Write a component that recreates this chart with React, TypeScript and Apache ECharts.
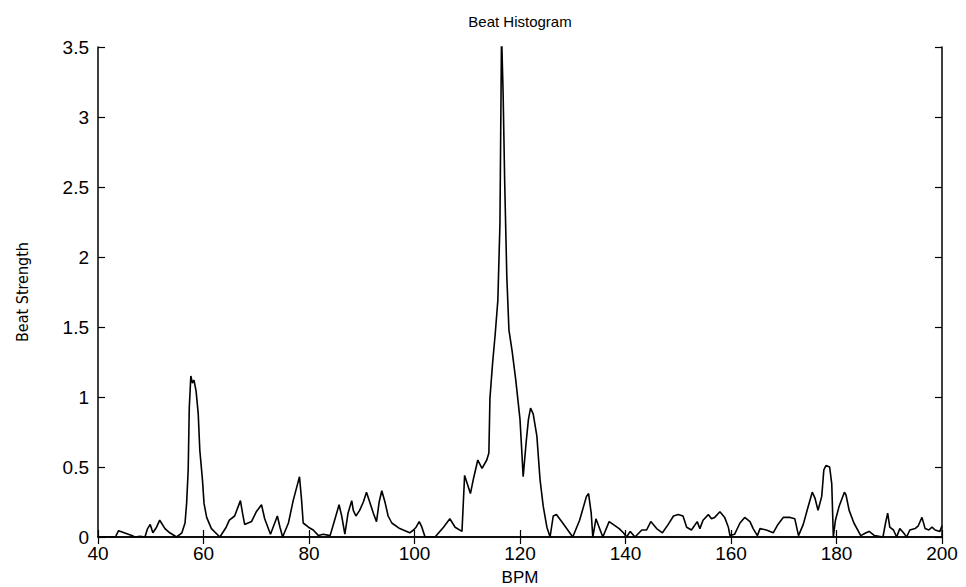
import React, { useEffect, useRef } from "react";
import * as echarts from "echarts";

const bpm: number[] = [
  40.0, 43.3, 43.9, 46.4, 47.0, 48.0, 48.9, 49.4, 49.9, 50.4, 51.1, 51.7, 52.7, 53.6, 54.9,
  55.9, 56.5, 56.8, 57.1, 57.3, 57.6, 57.9, 58.2, 58.6, 59.0, 59.3, 59.8, 60.1, 60.6, 61.5,
  63.1, 64.3, 64.9, 65.9, 66.5, 67.0, 67.4, 67.8, 69.1, 70.0, 71.0, 71.6, 72.7, 74.0, 74.5,
  75.0, 76.1, 77.0, 77.7, 78.2, 78.6, 78.9, 79.9, 80.8, 81.8, 82.7, 84.0, 84.7, 85.7, 86.2,
  86.8, 87.4, 88.1, 88.4, 88.9, 89.6, 90.3, 90.9, 91.6, 92.2, 92.8, 93.3, 93.8, 94.4, 95.0,
  95.7, 97.2, 99.1, 99.8, 100.3, 100.9, 101.4, 102.0, 103.9, 105.5, 106.7, 107.7, 109.0, 109.5, 110.1,
  110.6, 111.2, 112.0, 112.8, 113.7, 114.1, 114.3, 114.8, 115.3, 115.8, 116.2, 116.5, 116.8, 117.1, 117.5,
  117.9, 118.5, 119.2, 120.0, 120.3, 120.6, 121.2, 121.6, 122.0, 122.5, 123.2, 123.8, 124.4, 125.1, 125.7,
  126.3, 126.9, 128.1, 130.0, 131.3, 132.6, 133.0, 133.5, 133.8, 134.4, 135.0, 135.7, 136.9, 138.8, 139.6,
  140.2, 140.9, 141.8, 143.1, 144.0, 144.8, 145.9, 147.0, 148.1, 149.1, 150.0, 150.9, 151.6, 152.5, 153.6,
  154.1, 154.7, 155.7, 156.3, 156.9, 157.9, 158.8, 159.5, 159.8, 160.7, 161.7, 162.6, 163.6, 164.2, 165.0,
  165.5, 166.7, 168.0, 168.9, 169.9, 171.2, 172.1, 172.8, 173.7, 174.5, 175.4, 175.9, 176.5, 177.2, 177.6,
  178.0, 178.7, 179.1, 179.4, 179.8, 180.5, 181.5, 181.8, 182.4, 183.3, 184.6, 185.6, 186.2, 187.2, 188.8,
  189.3, 189.7, 190.1, 190.8, 191.4, 192.0, 192.7, 193.3, 193.9, 194.9, 195.5, 196.2, 196.8, 197.5, 198.1,
  198.7, 199.6, 200.0,
];

const strength: number[] = [
  0, 0, 0.045, 0.01, 0, 0.005, 0, 0.06, 0.09, 0.03, 0.07, 0.12, 0.06, 0.03, 0,
  0.03, 0.1, 0.24, 0.48, 0.92, 1.15, 1.10, 1.12, 1.04, 0.88, 0.62, 0.41, 0.24, 0.14, 0.06,
  0, 0.07, 0.12, 0.15, 0.21, 0.26, 0.17, 0.09, 0.11, 0.18, 0.23, 0.13, 0.02, 0.15, 0.07,
  0, 0.1, 0.26, 0.36, 0.43, 0.26, 0.1, 0.07, 0.05, 0.01, 0.02, 0.01, 0.1, 0.23, 0.15,
  0.02, 0.17, 0.26, 0.19, 0.15, 0.19, 0.25, 0.32, 0.24, 0.17, 0.11, 0.25, 0.33, 0.25, 0.15,
  0.1, 0.06, 0.03, 0.05, 0.07, 0.11, 0.07, 0, 0, 0.07, 0.13, 0.07, 0.04, 0.44, 0.37,
  0.31, 0.42, 0.55, 0.49, 0.55, 0.6, 0.99, 1.24, 1.45, 1.69, 2.24, 3.6, 3.17, 2.53, 1.86,
  1.48, 1.33, 1.12, 0.84, 0.64, 0.43, 0.69, 0.84, 0.92, 0.88, 0.72, 0.41, 0.22, 0.07, 0,
  0.15, 0.16, 0.1, 0, 0.12, 0.29, 0.31, 0.17, 0, 0.13, 0.07, 0, 0.11, 0.06, 0.03,
  0, 0.04, 0, 0.05, 0.05, 0.11, 0.06, 0.03, 0.09, 0.15, 0.16, 0.15, 0.07, 0.05, 0.11,
  0.06, 0.12, 0.16, 0.13, 0.14, 0.18, 0.14, 0.07, 0.01, 0.02, 0.1, 0.14, 0.11, 0.06, 0.01,
  0.06, 0.05, 0.03, 0.09, 0.14, 0.14, 0.13, 0.01, 0.09, 0.2, 0.32, 0.28, 0.19, 0.29, 0.48,
  0.51, 0.50, 0.38, 0, 0.12, 0.22, 0.32, 0.30, 0.19, 0.1, 0.01, 0.03, 0.04, 0.01, 0,
  0.1, 0.17, 0.07, 0.05, 0, 0.06, 0.03, 0, 0.05, 0.06, 0.08, 0.14, 0.06, 0.05, 0.07,
  0.05, 0.04, 0.08,
];

const titleText = "Beat Histogram";
const xName = "BPM";
const yName = "Beat Strength";

const FONT = "'Liberation Sans', Arial, Helvetica, sans-serif";
const NARROW = "'Liberation Sans Narrow', 'DejaVu Sans Condensed', Arial, sans-serif";

export default function App() {
  const ref = useRef<HTMLDivElement>(null);
  useEffect(() => {
    if (!ref.current) return;
    const chart = echarts.init(ref.current, undefined, { renderer: "svg" });
    const data = bpm.map((b, i) => [b, strength[i]]);
    const axisLine = { show: true, lineStyle: { color: "#000", width: 1.5 } };
    const tick = { show: true, inside: true, length: 7, lineStyle: { color: "#000", width: 1.2 } };
    chart.setOption({
      animation: false,
      backgroundColor: "#fff",
      grid: { left: 98, right: 24, top: 47, bottom: 50, containLabel: false },
      xAxis: [
        {
          type: "value", min: 40, max: 200, interval: 20, position: "bottom",
          axisLine, axisTick: tick, splitLine: { show: false },
          axisLabel: { color: "#000", fontSize: 19, fontFamily: FONT, margin: 7 },
        },
        {
          type: "value", min: 40, max: 200, interval: 20, position: "top",
          axisLine, axisTick: tick, splitLine: { show: false }, axisLabel: { show: false },
        },
      ],
      yAxis: [
        {
          type: "value", min: 0, max: 3.5, interval: 0.5, position: "left",
          axisLine, axisTick: tick, splitLine: { show: false },
          axisLabel: { color: "#000", fontSize: 19, fontFamily: FONT, margin: 9 },
        },
        {
          type: "value", min: 0, max: 3.5, interval: 0.5, position: "right",
          axisLine, axisTick: tick, splitLine: { show: false }, axisLabel: { show: false },
        },
      ],
      series: [
        {
          type: "line",
          data,
          showSymbol: false,
          symbol: "none",
          clip: true,
          lineStyle: { color: "#000", width: 1.6 },
        },
      ],
      graphic: [
        {
          type: "text", x: 520, y: 21,
          style: { text: titleText, fill: "#000", font: `15px ${FONT}`, align: "center", verticalAlign: "middle" },
        },
        {
          type: "text", x: 520, y: 577,
          style: { text: xName, fill: "#000", font: `17px ${FONT}`, align: "center", verticalAlign: "middle" },
        },
        {
          type: "text", x: 22, y: 292, rotation: Math.PI / 2,
          style: { text: yName, fill: "#000", font: `16px ${NARROW}`, align: "center", verticalAlign: "middle" },
        },
      ],
    });
    return () => chart.dispose();
  }, []);
  return <div ref={ref} style={{ width: 966, height: 587, position: "absolute", left: 0, top: 0 }} />;
}
